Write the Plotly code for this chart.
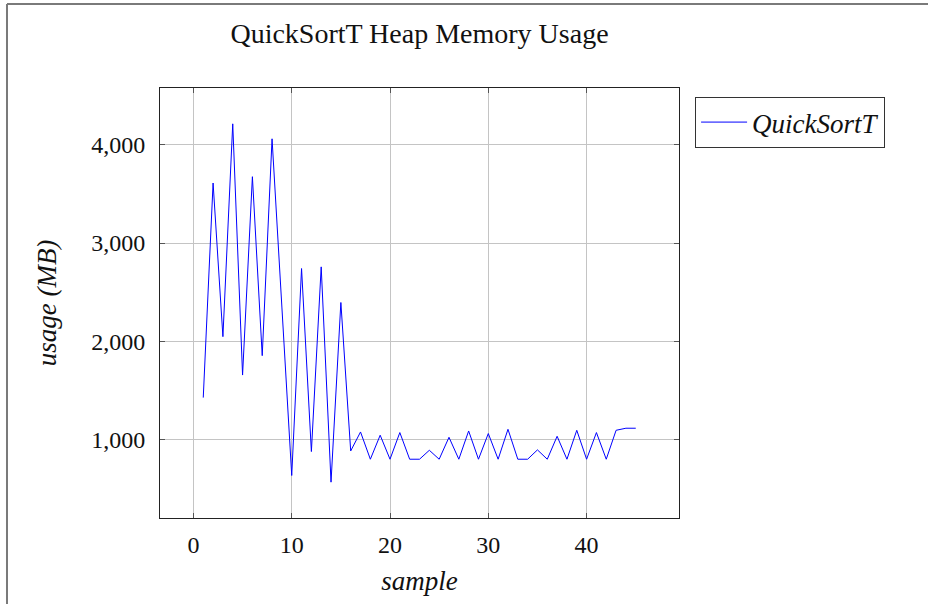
import plotly.graph_objects as go

# Heap memory usage per sample (MB)
samples = list(range(1, 46))
usage_mb = [
    1430, 3610, 2049, 4211, 1659, 3674, 1856, 4059, 2350, 639,
    2741, 882, 2758, 571, 2396, 888, 1081, 804, 1048, 804,
    1075, 804, 804, 895, 804, 1027, 804, 1091, 804, 1065,
    804, 1108, 804, 804, 899, 804, 1037, 804, 1098, 804,
    1075, 804, 1098, 1119, 1119,
]
x_ticks = [0, 10, 20, 30, 40]
y_ticks = [1000, 2000, 3000, 4000]

SERIF = "Liberation Serif"
INK = "#111111"

fig = go.Figure()
fig.add_trace(go.Scatter(
    x=samples, y=usage_mb, mode="lines", name="<i>QuickSortT</i>",
    line=dict(color="#0000ff", width=1),
))

# pgfplots-style 10% enlargement of the data limits
xr = (min(samples), max(samples))
yr = (min(usage_mb), max(usage_mb))
xpad = 0.1 * (xr[1] - xr[0])
ypad = 0.1 * (yr[1] - yr[0])

axis_common = dict(
    showline=True, linecolor="#222222", linewidth=1, mirror="ticks",
    ticks="inside", ticklen=5, tickcolor="#555555",
    showgrid=True, gridcolor="#c4c4c4", gridwidth=1,
    zeroline=False,
    tickfont=dict(family=SERIF, size=24, color=INK),
)

fig.update_xaxes(
    range=[xr[0] - xpad, xr[1] + xpad], tickvals=x_ticks,
    title=dict(text="<i>sample</i>", font=dict(family=SERIF, size=27, color=INK), standoff=14),
    ticklabelstandoff=5,
    **axis_common,
)
fig.update_yaxes(
    range=[yr[0] - ypad, yr[1] + ypad], tickvals=y_ticks, tickformat=",d",
    title=dict(text="<i>usage (MB)</i>", font=dict(family=SERIF, size=27, color=INK), standoff=26),
    ticklabelstandoff=9,
    **axis_common,
)

# Outer frame (left and top edges visible on the page)
frame = dict(type="line", xref="paper", yref="paper", line=dict(color="#7a7a7a", width=2))
fig.add_shape(x0=-0.2948, x1=-0.2948, y0=-0.3, y1=1.1953, **frame)
fig.add_shape(x0=-0.2948, x1=1.6, y0=1.1953, y1=1.1953, **frame)

fig.update_layout(
    width=928, height=604,
    margin=dict(l=160, r=249, t=88, b=86),
    paper_bgcolor="white", plot_bgcolor="white",
    title=dict(
        text="QuickSortT Heap Memory Usage",
        x=0.5, xref="paper", xanchor="center",
        y=1 - 33 / 604, yanchor="middle",
        font=dict(family=SERIF, size=28, color=INK),
    ),
    showlegend=True,
    legend=dict(
        x=1.031, y=0.979, xanchor="left", yanchor="top",
        bordercolor="#333333", borderwidth=1, bgcolor="white",
        font=dict(family=SERIF, size=27, color=INK),
        itemwidth=46,
    ),
)

fig.write_html("out.html")
